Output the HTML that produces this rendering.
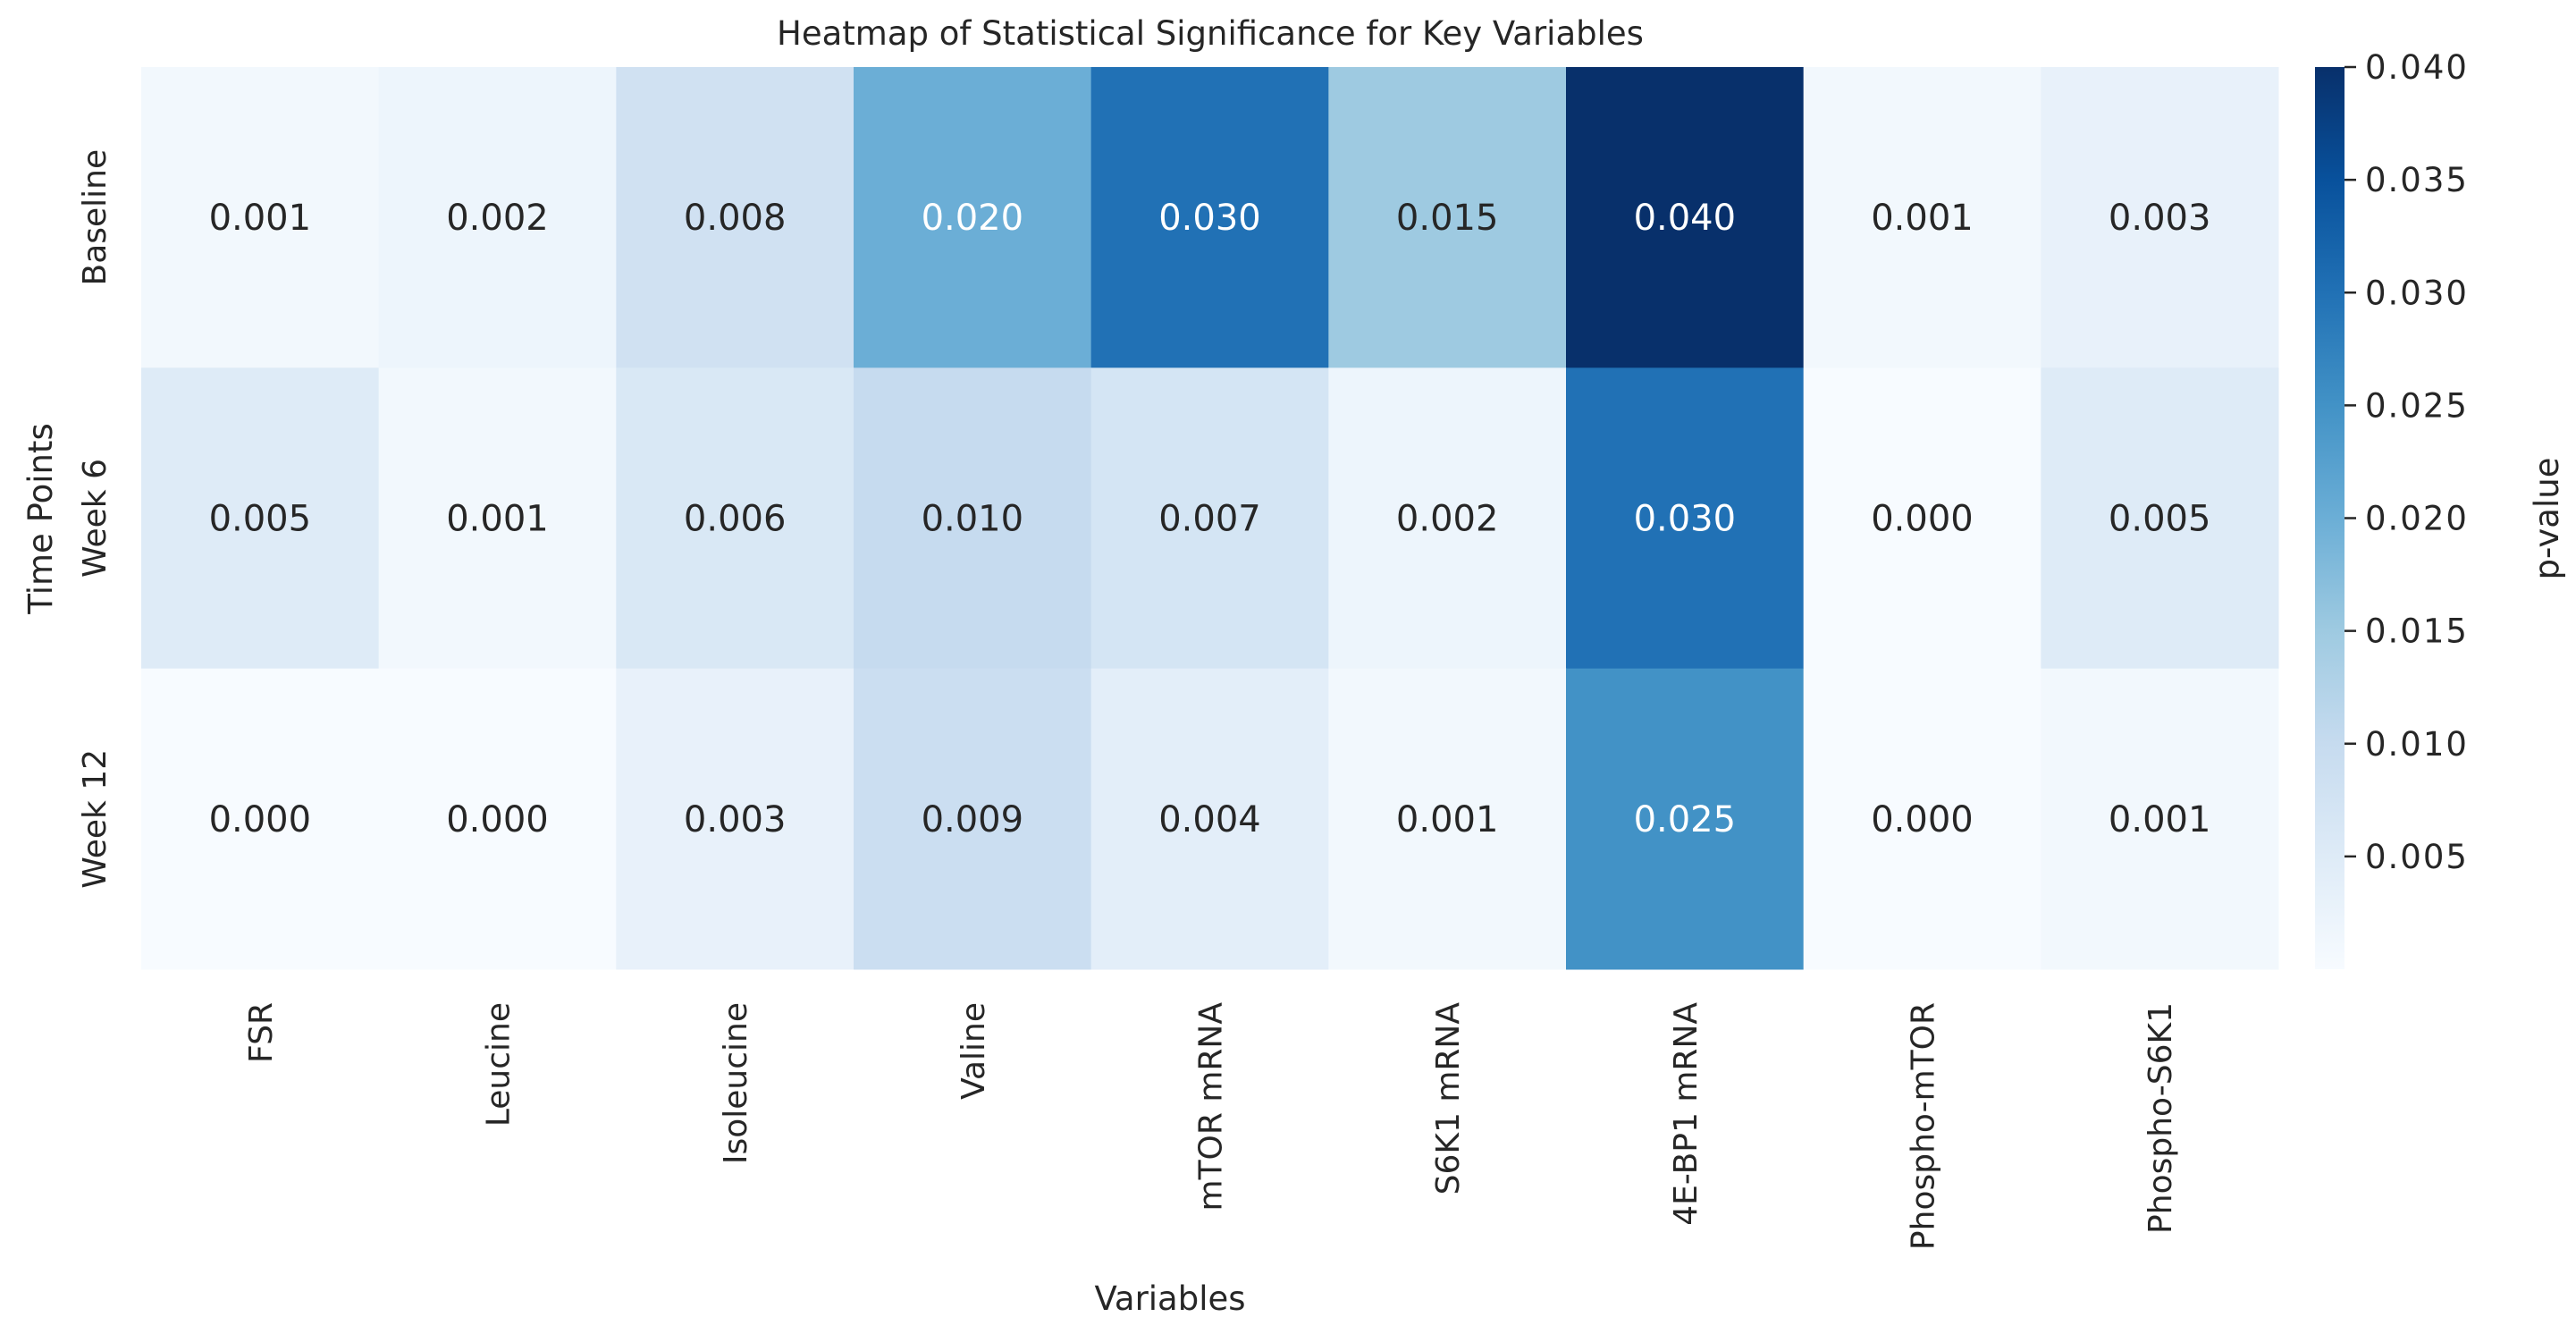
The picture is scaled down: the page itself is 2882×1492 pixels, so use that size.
<!DOCTYPE html>
<html><head><meta charset="utf-8"><style>
html,body{margin:0;padding:0;background:#fff}
svg{display:block;font-family:"DejaVu Sans","Liberation Sans",sans-serif}
</style></head><body>
<svg id="chart" width="2882" height="1492" viewBox="0 0 2882 1492">
<text x="1354" y="50" font-size="37" text-anchor="middle" fill="#262626">Heatmap of Statistical Significance for Key Variables</text>
<g id="cells"></g>
<g id="xlabels"></g>
<g id="ylabels"></g>
<text x="1309" y="1465" font-size="37" text-anchor="middle" fill="#262626">Variables</text>
<text transform="translate(58,580) rotate(-90)" font-size="37" text-anchor="middle" fill="#262626">Time Points</text>
<defs><linearGradient id="cbg" x1="0" y1="1" x2="0" y2="0">
<stop offset="0" stop-color="#f7fbff"/><stop offset="0.125" stop-color="#deebf7"/><stop offset="0.25" stop-color="#c6dbef"/><stop offset="0.375" stop-color="#9ecae1"/><stop offset="0.5" stop-color="#6baed6"/><stop offset="0.625" stop-color="#4292c6"/><stop offset="0.75" stop-color="#2171b5"/><stop offset="0.875" stop-color="#08519c"/><stop offset="1" stop-color="#08306b"/>
</linearGradient></defs>
<rect x="2590" y="75" width="33" height="1009" fill="url(#cbg)"/>
<g id="cbticks"></g>
<text transform="translate(2862,580) rotate(-90)" font-size="37" text-anchor="middle" fill="#262626">p-value</text>
</svg>
<script>
const variables = ["FSR","Leucine","Isoleucine","Valine","mTOR mRNA","S6K1 mRNA","4E-BP1 mRNA","Phospho-mTOR","Phospho-S6K1"];
const timePoints = ["Baseline","Week 6","Week 12"];
const baselineValues = [0.001,0.002,0.008,0.020,0.030,0.015,0.040,0.001,0.003];
const week6Values = [0.005,0.001,0.006,0.010,0.007,0.002,0.030,0.000,0.005];
const week12Values = [0.000,0.000,0.003,0.009,0.004,0.001,0.025,0.000,0.001];
const colorbarTicks = [0.005,0.010,0.015,0.020,0.025,0.030,0.035,0.040];
const vmin = 0, vmax = 0.04;

const NS = "http://www.w3.org/2000/svg";
const plotLeft = 158, plotRight = 2549, plotTop = 75, plotBottom = 1084;
const colW = (plotRight-plotLeft)/variables.length, rowH = (plotBottom-plotTop)/timePoints.length;
const xPos = i => plotLeft + i*colW;
const yPos = j => plotTop + j*rowH;
const cbY = v => plotBottom - (v - vmin)/(vmax - vmin)*(plotBottom - plotTop);
const cmapAnchors = ["#f7fbff","#deebf7","#c6dbef","#9ecae1","#6baed6","#4292c6","#2171b5","#08519c","#08306b"].map(h=>[1,3,5].map(k=>parseInt(h.substr(k,2),16)));
function cmap(v){
  let t = Math.max(0,Math.min(1,(v-vmin)/(vmax-vmin)))*8;
  let i = Math.min(7,Math.floor(t)), f = t-i;
  return cmapAnchors[i].map((c,k)=>Math.round(c+(cmapAnchors[i+1][k]-c)*f));
}
function relLum(c){
  const lin = c.map(x=>{x/=255;return x<=0.03928?x/12.92:Math.pow((x+0.055)/1.055,2.4);});
  return 0.2126*lin[0]+0.7152*lin[1]+0.0722*lin[2];
}
function mk(tag, attrs, parent){const e=document.createElementNS(NS,tag);for(const k in attrs)e.setAttribute(k,attrs[k]);parent.appendChild(e);return e;}

const dataRows = [baselineValues, week6Values, week12Values];
const cellsG = document.getElementById("cells");
dataRows.forEach((vals,j)=>{
  vals.forEach((v,i)=>{
    const c = cmap(v);
    const r = mk("rect",{x:xPos(i),y:yPos(j),width:colW+0.5,height:rowH+0.5,fill:`rgb(${c.join(",")})`},cellsG);
    
    
    const t = mk("text",{x:xPos(i)+colW/2,y:yPos(j)+rowH/2+14,"font-size":40,"text-anchor":"middle",fill:relLum(c)>0.408?"#262626":"#ffffff"},cellsG);
    t.textContent = v.toFixed(3);
    
    
  });
});
const xlG = document.getElementById("xlabels");
variables.forEach((name,i)=>{
  const cx = xPos(i)+colW/2;
  const t = mk("text",{transform:`translate(${cx+13},1121) rotate(-90)`,"font-size":36,"text-anchor":"end",fill:"#262626"},xlG);
  t.textContent = name;
  
  
});
const ylG = document.getElementById("ylabels");
timePoints.forEach((name,j)=>{
  const cy = yPos(j)+rowH/2;
  const t = mk("text",{transform:`translate(118,${cy}) rotate(-90)`,"font-size":36,"text-anchor":"middle",fill:"#262626"},ylG);
  t.textContent = name;
  
  
});
const cbG = document.getElementById("cbticks");
colorbarTicks.forEach(v=>{
  const y = cbY(v);
  const l = mk("line",{x1:2623,x2:2636,y1:y,y2:y,stroke:"#262626","stroke-width":2.5},cbG);
  
  
  const t = mk("text",{x:2646,y:y+13,"font-size":37,fill:"#262626","letter-spacing":"2"},cbG);
  t.textContent = v.toFixed(3);
  
  
});
</script>
</body></html>
